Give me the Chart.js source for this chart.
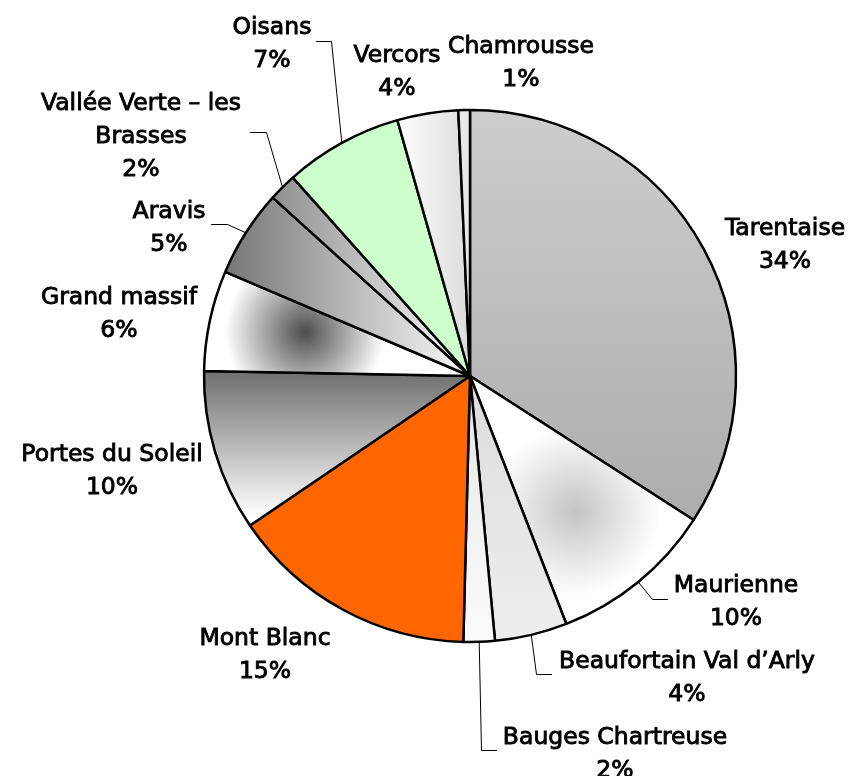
<!DOCTYPE html>
<html>
<head>
<meta charset="utf-8">
<script src="https://cdn.jsdelivr.net/npm/chart.js@4.4.1/dist/chart.umd.min.js"></script>
<style>
  html, body { margin: 0; padding: 0; background: #fff; }
  #wrap { width: 851px; height: 776px; }
</style>
</head>
<body>
<div id="wrap"><canvas id="pie" width="851" height="776"></canvas></div>
<script>
// ski areas, clockwise from 12 o'clock
const regions = [
  "Tarentaise", "Maurienne", "Beaufortain Val d\u2019Arly", "Bauges Chartreuse",
  "Mont Blanc", "Portes du Soleil", "Grand massif", "Aravis",
  "Vallée Verte – les Brasses", "Oisans", "Vercors", "Chamrousse"
];
// share of each area (%)
const shares = [34.1, 10.0, 4.4, 1.9, 15.1, 9.8, 6.1, 5.3, 1.7, 7.2, 3.7, 0.7];

const R = 266;
const LINE_H = 32.8;
const FONT = '23.5px "DejaVu Sans"';

// where each label sits (text centre x, cap-centre y of first line) and optional leader line
const labelLayout = [
  { x: 785, y: 227 },
  { x: 736, y: 584, end: [668, 599], elbow: [652, 599] },
  { x: 687, y: 660, end: [552, 674], elbow: [536, 674] },
  { x: 615, y: 736, end: [497, 750], elbow: [481, 750] },
  { x: 265, y: 637 },
  { x: 112, y: 453 },
  { x: 119, y: 296 },
  { x: 169, y: 210, end: [211, 224], elbow: [227, 224] },
  { x: 141, y: 102, wrap: 235, end: [250, 132], elbow: [266, 132] },
  { x: 272, y: 26, end: [316, 41], elbow: [331, 41] },
  { x: 397, y: 54 },
  { x: 521, y: 45 }
];

function centre(chart) {
  const a = chart.chartArea;
  return { cx: (a.left + a.right) / 2, cy: (a.top + a.bottom) / 2 };
}

// slice fills (some are gradients like the original office chart)
const fills = [
  (c, cx, cy) => { const g = c.createLinearGradient(0, cy - R, 0, cy + R * 0.55); g.addColorStop(0, '#cdcdcd'); g.addColorStop(1, '#acacac'); return g; },
  (c, cx, cy) => { const g = c.createRadialGradient(cx + 105, cy + 135, 0, cx + 105, cy + 135, 85); g.addColorStop(0, '#c4c4c4'); g.addColorStop(1, '#ffffff'); return g; },
  (c, cx, cy) => { const g = c.createLinearGradient(0, cy, 0, cy + R); g.addColorStop(0, '#dcdcdc'); g.addColorStop(1, '#eeeeee'); return g; },
  (c, cx, cy) => { const g = c.createLinearGradient(0, cy, 0, cy + R); g.addColorStop(0, '#e6e6e6'); g.addColorStop(1, '#fbfbfb'); return g; },
  () => '#ff6600',
  (c, cx, cy) => { const g = c.createLinearGradient(0, cy, 0, cy + 140); g.addColorStop(0, '#737373'); g.addColorStop(1, '#ffffff'); return g; },
  (c, cx, cy) => { const g = c.createRadialGradient(cx - 165, cy - 44, 0, cx - 165, cy - 44, 80); g.addColorStop(0, '#4d4d4d'); g.addColorStop(1, '#ffffff'); return g; },
  (c, cx, cy) => { const g = c.createLinearGradient(cx - R, 0, cx, 0); g.addColorStop(0, '#6a6a6a'); g.addColorStop(1, '#fafafa'); return g; },
  (c, cx, cy) => { const g = c.createLinearGradient(cx - R, 0, cx, 0); g.addColorStop(0, '#6a6a6a'); g.addColorStop(1, '#fafafa'); return g; },
  () => '#ccffcc',
  (c, cx, cy) => { const g = c.createLinearGradient(cx - 75, 0, cx - 5, 0); g.addColorStop(0, '#ffffff'); g.addColorStop(1, '#dedede'); return g; },
  () => '#e8e8e8'
];

function wrapText(ctx, text, maxW) {
  if (!maxW) return [text];
  const words = text.split(' ');
  const out = [];
  let line = '';
  words.forEach(w => {
    const t = line ? line + ' ' + w : w;
    if (line && ctx.measureText(t).width > maxW) { out.push(line); line = w; }
    else line = t;
  });
  out.push(line);
  return out;
}

const sliceLabels = {
  id: 'sliceLabels',
  afterDatasetsDraw(chart) {
    const ctx = chart.ctx;
    const meta = chart.getDatasetMeta(0);
    const total = shares.reduce((a, b) => a + b, 0);
    ctx.save();
    ctx.font = FONT;
    ctx.fillStyle = '#000';
    ctx.strokeStyle = '#000';
    ctx.textAlign = 'center';
    ctx.textBaseline = 'alphabetic';
    meta.data.forEach((arc, i) => {
      const L = labelLayout[i];
      const lines = wrapText(ctx, regions[i], L.wrap);
      lines.push(Math.round(shares[i] / total * 100) + '%');
      ctx.lineWidth = 0.9;
      lines.forEach((t, k) => {
        const y = L.y + 8.4 + k * LINE_H;
        ctx.fillText(t, L.x, y);
        ctx.strokeText(t, L.x, y);
      });
      if (L.end) {
        const mid = (arc.startAngle + arc.endAngle) / 2;
        const px = arc.x + Math.cos(mid) * arc.outerRadius;
        const py = arc.y + Math.sin(mid) * arc.outerRadius;
        ctx.beginPath();
        ctx.lineWidth = 1;
        ctx.moveTo(px, py);
        ctx.lineTo(L.elbow[0] + 0.5, L.elbow[1] + 0.5);
        ctx.lineTo(L.end[0], L.end[1] + 0.5);
        ctx.stroke();
      }
    });
    ctx.restore();
  }
};

new Chart(document.getElementById('pie'), {
  type: 'pie',
  data: {
    labels: regions,
    datasets: [{
      data: shares,
      radius: R,
      borderColor: '#000',
      borderWidth: 2.5,
      backgroundColor: (context) => {
        const chart = context.chart;
        if (!chart.chartArea) return '#ccc';
        const { cx, cy } = centre(chart);
        return fills[context.dataIndex](chart.ctx, cx, cy);
      }
    }]
  },
  options: {
    responsive: false,
    animation: false,
    layout: { padding: { left: 89, bottom: 24 } },
    plugins: { legend: { display: false }, tooltip: { enabled: false } }
  },
  plugins: [sliceLabels]
});
</script>
</body>
</html>
